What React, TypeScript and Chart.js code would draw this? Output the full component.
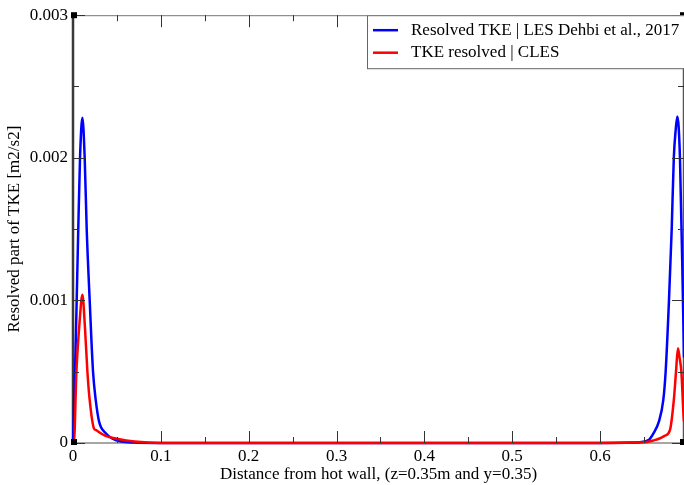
import React, { useEffect, useRef } from "react";
import { Chart, registerables } from "chart.js";

Chart.register(...registerables);

// ---- data ----
const blueX = [0, 0.0023, 0.0042, 0.006, 0.008, 0.0107, 0.0133, 0.0156, 0.019, 0.0228, 0.0259, 0.0297, 0.037, 0.045, 0.055, 0.07, 0.1, 0.2, 0.3, 0.4, 0.5, 0.6, 0.64, 0.655, 0.661, 0.667, 0.672, 0.6747, 0.6785, 0.6816, 0.684, 0.6862, 0.688, 0.691, 0.6944, 0.6956];
const blueY = [0, 0.0005, 0.001, 0.0015, 0.002, 0.00228, 0.002, 0.0015, 0.001, 0.0005, 0.0003, 0.00015, 0.00007, 0.00003, 0.00001, 0.000003, 0, 0, 0, 0, 0, 0, 0.000003, 0.00002, 0.00007, 0.00015, 0.0003, 0.0005, 0.001, 0.0015, 0.002, 0.0022, 0.00229, 0.002, 0.001, 0.0006];

const redX = [0, 0.001, 0.0039, 0.0075, 0.0107, 0.0137, 0.0164, 0.019, 0.024, 0.0265, 0.0285, 0.037, 0.05, 0.07, 0.1, 0.2, 0.3, 0.4, 0.5, 0.6, 0.65, 0.662, 0.667, 0.6735, 0.6796, 0.684, 0.6865, 0.6887, 0.6905, 0.6926, 0.695, 0.6956];
const redY = [0, 0, 0.0005, 0.00085, 0.00104, 0.0008, 0.0005, 0.0003, 0.0001, 0.00009, 0.00008, 0.00005, 0.00003, 0.00001, 0, 0, 0, 0, 0, 0, 0.000005, 0.00002, 0.00003, 0.00005, 0.00009, 0.0003, 0.0005, 0.000665, 0.0006, 0.0005, 0.0002, 0.00015];

const seriesLabels = ["Resolved TKE | LES Dehbi et al., 2017", "TKE resolved | CLES"];
const xMajorTicks = [0, 0.1, 0.2, 0.3, 0.4, 0.5, 0.6];
const xMinorTicks = [0.05, 0.15, 0.25, 0.35, 0.45, 0.55, 0.65];
const xTickLabels = ["0", "0.1", "0.2", "0.3", "0.4", "0.5", "0.6"];
const yMajorTicks = [0, 0.001, 0.002, 0.003];
const yMinorTicks = [0.0005, 0.0015, 0.0025];
const yTickLabels = ["0", "0.001", "0.002", "0.003"];
const xMax = 0.6956;
const yMax = 0.003;

const FONT = "'Liberation Serif', 'Times New Roman', serif";

const framePlugin = {
  id: "frame",
  beforeDatasetsDraw(chart: any) {
    const { ctx, chartArea } = chart;
    const { left, right, top, bottom } = chartArea;
    ctx.save();
    // top line
    ctx.strokeStyle = "#777";
    ctx.lineWidth = 1;
    ctx.beginPath();
    ctx.moveTo(left, top + 0.5);
    ctx.lineTo(right, top + 0.5);
    ctx.stroke();
    // bottom line
    ctx.strokeStyle = "#888";
    ctx.lineWidth = 1.5;
    ctx.beginPath();
    ctx.moveTo(left, bottom);
    ctx.lineTo(right, bottom);
    ctx.stroke();
    // right line
    ctx.strokeStyle = "#555";
    ctx.lineWidth = 1.5;
    ctx.beginPath();
    ctx.moveTo(right - 0.5, top);
    ctx.lineTo(right - 0.5, bottom);
    ctx.stroke();
    // left line
    ctx.strokeStyle = "#3a3a3a";
    ctx.lineWidth = 2.5;
    ctx.beginPath();
    ctx.moveTo(left, top);
    ctx.lineTo(left, bottom);
    ctx.stroke();
    ctx.restore();
  },
  afterDatasetsDraw(chart: any) {
    const { ctx, chartArea, scales } = chart;
    const { left, right, top, bottom } = chartArea;
    const xs = scales.x;
    const ys = scales.y;
    ctx.save();
    ctx.strokeStyle = "#333";
    ctx.lineWidth = 1;
    const vt = (v: number, len: number) => {
      const px = Math.round(xs.getPixelForValue(v)) + 0.5;
      ctx.beginPath();
      ctx.moveTo(px, bottom);
      ctx.lineTo(px, bottom - len);
      ctx.moveTo(px, top);
      ctx.lineTo(px, top + len);
      ctx.stroke();
    };
    const ht = (v: number, len: number) => {
      const py = Math.round(ys.getPixelForValue(v)) + 0.5;
      ctx.beginPath();
      ctx.moveTo(left, py);
      ctx.lineTo(left + len, py);
      ctx.moveTo(right, py);
      ctx.lineTo(right - len, py);
      ctx.stroke();
    };
    xMajorTicks.forEach((v) => vt(v, 12));
    xMinorTicks.forEach((v) => vt(v, 6));
    yMajorTicks.forEach((v) => ht(v, 12));
    yMinorTicks.forEach((v) => ht(v, 6));

    // corner squares
    ctx.fillStyle = "#000";
    const sq = (x: number, y: number) => ctx.fillRect(x - 3, y - 3, 6, 6);
    sq(left + 1, top);
    sq(left + 1, bottom - 1);
    sq(right - 1, top);
    sq(right - 1, bottom - 1);

    // legend
    const bx = 367;
    const by = top;
    const bw = right - bx + 10;
    const bh = 53;
    ctx.fillStyle = "#fff";
    ctx.fillRect(bx, by, bw, bh);
    ctx.strokeStyle = "#666";
    ctx.lineWidth = 1;
    ctx.strokeRect(bx + 0.5, by + 0.5, bw, bh);
    const colors = ["rgb(0,0,255)", "rgb(255,0,0)"];
    ctx.font = "17px " + FONT;
    ctx.textBaseline = "middle";
    ctx.textAlign = "left";
    seriesLabels.forEach((lab, i) => {
      const y = by + 15 + i * 22.5;
      ctx.strokeStyle = colors[i];
      ctx.lineWidth = 2.5;
      ctx.beginPath();
      ctx.moveTo(bx + 6, y);
      ctx.lineTo(bx + 31, y);
      ctx.stroke();
      ctx.fillStyle = "#000";
      ctx.fillText(lab, bx + 44, y);
    });
    ctx.restore();
  },
};

export default function App() {
  const ref = useRef<HTMLCanvasElement>(null);
  useEffect(() => {
    document.body.style.margin = "0";
    const canvas = ref.current!;
    Chart.defaults.font.family = FONT;
    Chart.defaults.color = "#000";
    const chart = new Chart(canvas, {
      type: "line",
      data: {
        datasets: [
          {
            label: seriesLabels[0],
            data: blueX.map((x, i) => ({ x, y: blueY[i] })),
            borderColor: "rgb(0,0,255)",
            borderWidth: 2.5,
            pointRadius: 0,
            cubicInterpolationMode: "monotone",
            order: 1,
            clip: 4,
          },
          {
            label: seriesLabels[1],
            data: redX.map((x, i) => ({ x, y: redY[i] })),
            borderColor: "rgb(255,0,0)",
            borderWidth: 2.5,
            pointRadius: 0,
            cubicInterpolationMode: "monotone",
            order: 0,
            clip: 4,
          },
        ],
      },
      options: {
        animation: false,
        responsive: true,
        maintainAspectRatio: false,
        layout: { padding: { top: 15, right: 0, left: 0, bottom: 0 } },
        plugins: { legend: { display: false }, tooltip: { enabled: false } },
        scales: {
          x: {
            type: "linear",
            min: 0,
            max: xMax,
            grid: { display: false, drawTicks: false },
            border: { display: false },
            ticks: {
              stepSize: 0.1,
              includeBounds: false,
              autoSkip: false,
              maxRotation: 0,
              padding: 3,
              font: { size: 17, family: FONT },
              color: "#000",
              callback: (v: any) => {
                const i = xMajorTicks.findIndex((t) => Math.abs(t - v) < 1e-6);
                return i >= 0 ? xTickLabels[i] : "";
              },
            },
            title: {
              display: true,
              text: "Distance from hot wall, (z=0.35m and y=0.35)",
              font: { size: 17, family: FONT },
              color: "#000",
              padding: { top: 0, bottom: 0 },
            },
            afterFit: (s: any) => {
              s.height = 42;
            },
          },
          y: {
            type: "linear",
            min: 0,
            max: yMax,
            grid: { display: false, drawTicks: false },
            border: { display: false },
            ticks: {
              stepSize: 0.001,
              includeBounds: false,
              autoSkip: false,
              padding: 5,
              font: { size: 17, family: FONT },
              color: "#000",
              callback: (v: any) => {
                const i = yMajorTicks.findIndex((t) => Math.abs(t - v) < 1e-9);
                return i >= 0 ? yTickLabels[i] : "";
              },
            },
            title: {
              display: true,
              text: "Resolved part of TKE [m2/s2]",
              font: { size: 17, family: FONT },
              color: "#000",
              padding: { top: 4, bottom: 0 },
            },
            afterFit: (s: any) => {
              s.width = 73;
            },
          },
        },
      },
      plugins: [framePlugin],
    });
    return () => chart.destroy();
  }, []);
  return (
    <div style={{ position: "relative", width: 684, height: 485 }}>
      <canvas ref={ref} />
    </div>
  );
}
